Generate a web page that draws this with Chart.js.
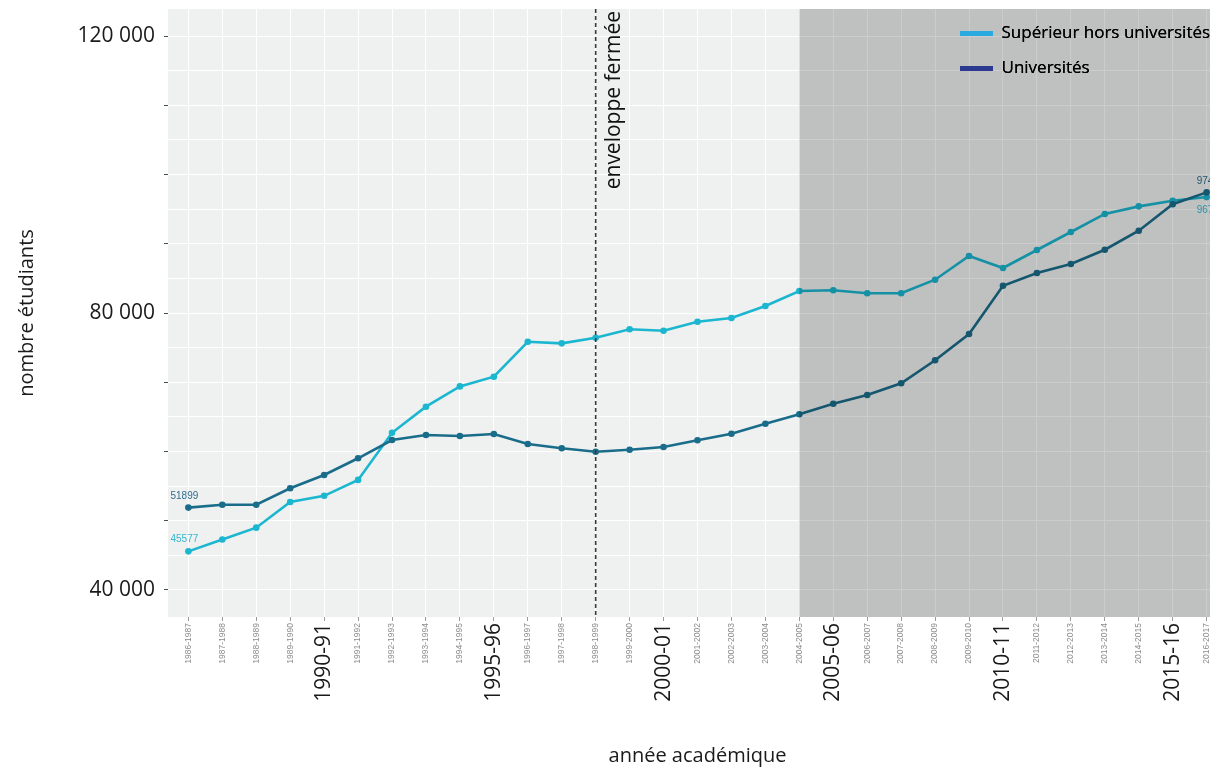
<!DOCTYPE html>
<html lang="fr">
<head>
<meta charset="utf-8">
<title>Nombre d'étudiants par année académique</title>
<script src="https://cdn.jsdelivr.net/npm/chart.js@4.4.1/dist/chart.umd.min.js"></script>
<style>
  html, body { margin: 0; padding: 0; background: #fff; overflow: hidden; }
  canvas { display: block; }
</style>
</head>
<body>
<canvas id="chart" width="1260" height="768"></canvas>
<script>
// academic years, one category per year
const years = [
  '1986-1987', '1987-1988', '1988-1989', '1989-1990', '1990-1991', '1991-1992',
  '1992-1993', '1993-1994', '1994-1995', '1995-1996', '1996-1997', '1997-1998',
  '1998-1999', '1999-2000', '2000-2001', '2001-2002', '2002-2003', '2003-2004',
  '2004-2005', '2005-2006', '2006-2007', '2007-2008', '2008-2009', '2009-2010',
  '2010-2011', '2011-2012', '2012-2013', '2013-2014', '2014-2015', '2015-2016',
  '2016-2017',
];
// years shown with the big label
const majorYears = ['1990-1991', '1995-1996', '2000-2001', '2005-2006', '2010-2011', '2015-2016'];
const majorText = ['1990-91', '1995-96', '2000-01', '2005-06', '2010-11', '2015-16'];

const horsUniv = [
  45577, 47300, 49000, 52700, 53600, 55900, 62700, 66470, 69400, 70800, 75850,
  75620, 76430, 77650, 77440, 78740, 79280, 81010, 83180, 83280, 82850, 82850,
  84810, 88230, 86500, 89100, 91700, 94300, 95400, 96220, 96740,
];
const univ = [
  51899, 52320, 52320, 54690, 56610, 59020, 61660, 62380, 62240, 62530, 61080,
  60460, 59970, 60260, 60650, 61620, 62570, 64010, 65370, 66900, 68160, 69850,
  73170, 76970, 83940, 85780, 87080, 89140, 91880, 95700, 97420,
];

const seriesNames = ['Supérieur hors universités', 'Universités'];
const yLabelValues = [40000, 80000, 120000];
const markerYear = '1998-1999';
const markerText = 'enveloppe fermée';
const shadeFrom = '2004-2005';

const lineColors = ['#1bb6cf', '#1a6d8a'];
const legendColors = ['#29abe2', '#2b3990'];
const endLabelColors = ['#34b8cf', '#2f6e8e'];

Chart.defaults.font.family = "'Open Sans', sans-serif";

function fmt(v) {
  return String(v).replace(/\B(?=(\d{3})+(?!\d))/g, ' ');
}

function tickValue(ctx) {
  return ctx && ctx.tick ? ctx.tick.value : -1;
}

function majorIndex(v) {
  return majorYears.indexOf(years[v]);
}

const seriesValues = [horsUniv, univ];

/** background, shaded period, marker line, end labels */
const decor = {
  id: 'decor',
  beforeDraw(chart) {
    const { ctx, chartArea: a } = chart;
    ctx.save();
    ctx.fillStyle = '#eff0f0';
    ctx.fillRect(a.left, a.top, a.right - a.left, a.bottom - a.top);
    ctx.restore();
  },
  afterLayout(chart) {
    const lg = chart.legend;
    if (!lg) return;
    lg.left = 942;
    lg.top = 7;
    lg.right = lg.left + lg.width;
    lg.bottom = lg.top + lg.height;
  },
  afterDatasetsDraw(chart) {
    const { ctx, chartArea: a, scales } = chart;
    ctx.save();

    // first / last values
    const dy = [[-12, 13], [-11, -11]];
    ctx.font = "10px 'Liberation Sans', sans-serif";
    ctx.textAlign = 'center';
    ctx.textBaseline = 'middle';
    seriesValues.forEach((vals, d) => {
      const pts = chart.getDatasetMeta(d).data;
      const last = pts.length - 1;
      ctx.fillStyle = endLabelColors[d];
      ctx.fillText(String(vals[0]), pts[0].x - 4, pts[0].y + dy[d][0]);
      ctx.fillText(String(vals[last]), pts[last].x + 4, pts[last].y + dy[d][1]);
    });

    // closed envelope marker
    const mx = scales.x.getPixelForValue(years.indexOf(markerYear));
    ctx.strokeStyle = '#3a3a3a';
    ctx.lineWidth = 1.6;
    ctx.setLineDash([4, 3]);
    ctx.beginPath();
    ctx.moveTo(mx, a.top);
    ctx.lineTo(mx, a.bottom);
    ctx.stroke();
    ctx.setLineDash([]);

    ctx.translate(mx + 18, a.top + 2);
    ctx.rotate(-Math.PI / 2);
    ctx.font = "21px 'Open Sans', sans-serif";
    ctx.fillStyle = '#111';
    ctx.textAlign = 'right';
    ctx.textBaseline = 'middle';
    ctx.fillText(markerText, 0, 0);
    ctx.restore();

    // shaded period, drawn over the lines
    ctx.save();
    const sx = scales.x.getPixelForValue(years.indexOf(shadeFrom));
    ctx.fillStyle = 'rgba(0, 0, 0, 0.2)';
    ctx.fillRect(sx, a.top, a.right - sx, a.bottom - a.top);
    ctx.restore();

    // legend sits on top of the shade
    if (chart.legend) chart.legend.draw();
  },
};

new Chart(document.getElementById('chart'), {
  type: 'line',
  data: {
    datasets: [
      {
        label: seriesNames[0],
        data: horsUniv.map((v, i) => ({ x: i, y: v })),
        borderColor: lineColors[0],
        backgroundColor: lineColors[0],
        order: 2,
      },
      {
        label: seriesNames[1],
        data: univ.map((v, i) => ({ x: i, y: v })),
        borderColor: lineColors[1],
        backgroundColor: lineColors[1],
        order: 1,
      },
    ],
  },
  options: {
    responsive: false,
    animation: false,
    devicePixelRatio: 1,
    layout: { padding: { top: 9, right: 33, left: 0, bottom: 0 } },
    elements: {
      line: { borderWidth: 2.6, tension: 0 },
      point: { radius: 3.3, hoverRadius: 3.3, borderWidth: 0 },
    },
    plugins: {
      tooltip: { enabled: false },
      legend: {
        position: 'chartArea',
        align: 'start',
        labels: {
          boxWidth: 33,
          boxHeight: 5,
          padding: 18,
          color: '#333',
          font: { size: 17 },
          generateLabels: () => seriesNames.map((name, i) => ({
            text: name,
            fillStyle: legendColors[i],
            strokeStyle: legendColors[i],
            lineWidth: 0,
            datasetIndex: i,
          })),
        },
      },
    },
    scales: {
      x: {
        type: 'linear',
        min: -0.6,
        max: years.length - 0.4,
        border: { display: false },
        grid: { color: '#ffffff', lineWidth: 1, tickLength: 4, tickColor: '#9a9a9a' },
        afterBuildTicks: (s) => { s.ticks = years.map((_, i) => ({ value: i })); },
        ticks: {
          autoSkip: false,
          minRotation: 90,
          maxRotation: 90,
          padding: 2,
          callback: (v) => {
            const m = majorIndex(v);
            return m >= 0 ? majorText[m] : years[v];
          },
          font: (ctx) => (majorIndex(tickValue(ctx)) >= 0
            ? { size: 21, family: "'Open Sans', sans-serif" }
            : { size: 8.5, family: "'Liberation Sans', sans-serif" }),
          color: (ctx) => (majorIndex(tickValue(ctx)) >= 0 ? '#1a1a1a' : '#8c8c8c'),
        },
        title: {
          display: true,
          text: 'année académique',
          color: '#1a1a1a',
          font: { size: 20 },
          padding: 0,
        },
        afterFit: (s) => { s.height = 151; s.paddingLeft = 0; s.paddingRight = 0; },
      },
      y: {
        min: 36100,
        max: 123900,
        border: { display: false },
        grid: {
          color: '#ffffff',
          lineWidth: 1,
          tickLength: 4,
          tickColor: (ctx) => (tickValue(ctx) % 10000 === 0 ? '#4d4d4d' : 'rgba(0,0,0,0)'),
        },
        afterBuildTicks: (s) => {
          const ticks = [];
          for (let v = 40000; v <= 120000; v += 5000) ticks.push({ value: v });
          s.ticks = ticks;
        },
        ticks: {
          autoSkip: false,
          padding: 9,
          color: '#1a1a1a',
          font: { size: 21 },
          callback: (v) => (yLabelValues.includes(v) ? fmt(v) : ''),
        },
        title: {
          display: true,
          text: 'nombre étudiants',
          color: '#1a1a1a',
          font: { size: 20 },
          padding: { top: 15, bottom: 0 },
        },
        afterFit: (s) => { s.width = 168; s.paddingTop = 0; s.paddingBottom = 0; },
      },
    },
  },
  plugins: [decor],
});
</script>
</body>
</html>
